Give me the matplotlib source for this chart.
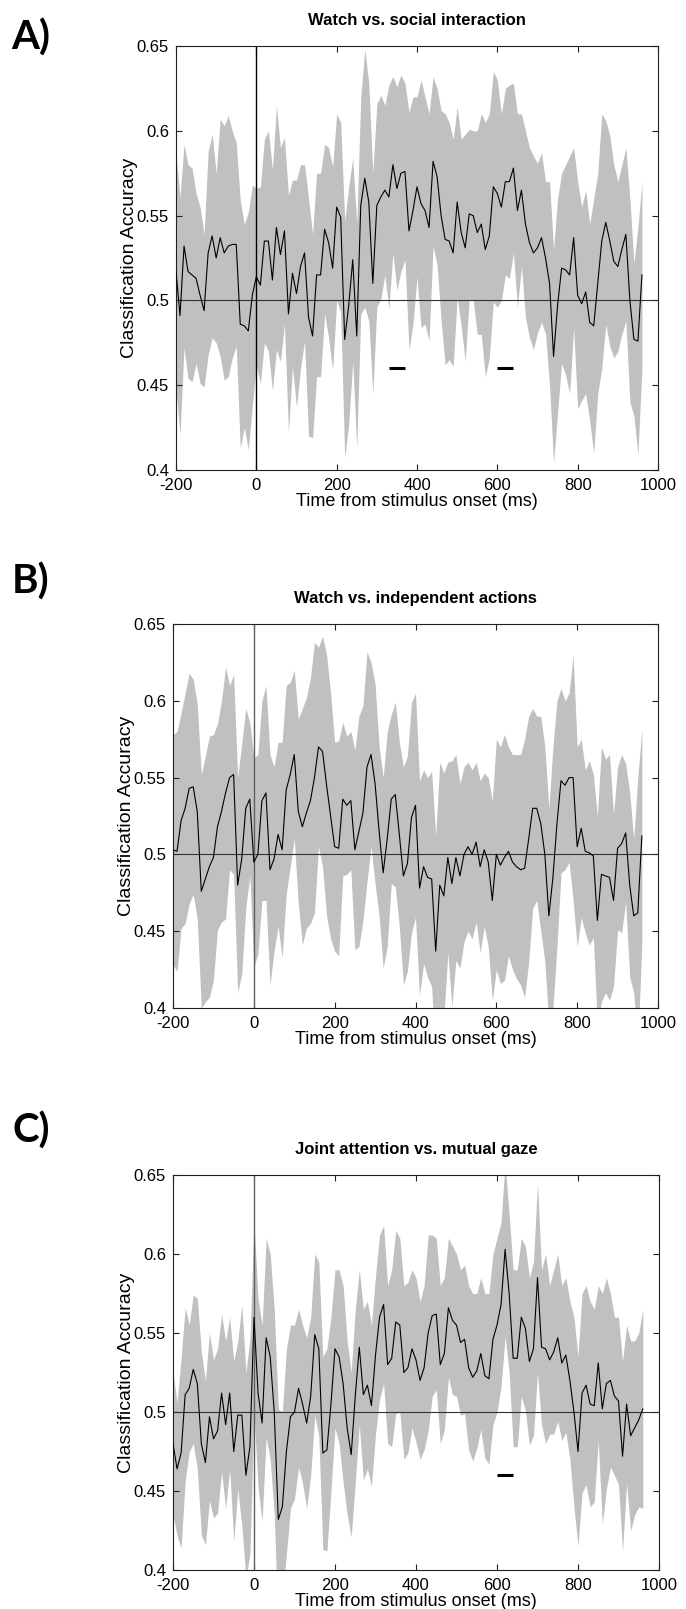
import numpy as np
import matplotlib.pyplot as plt
from matplotlib.ticker import FixedLocator, FixedFormatter

# time axis (ms), one sample every 10 ms
times = np.arange(-200, 961, 10)

# A) watch vs. social interaction: mean accuracy and band half-width
acc_social = [
    0.517, 0.491, 0.532, 0.517, 0.515, 0.513, 0.503, 0.494, 0.528, 0.538,
    0.525, 0.537, 0.528, 0.532, 0.533, 0.533, 0.486, 0.485, 0.482, 0.503,
    0.514, 0.509, 0.535, 0.535, 0.512, 0.543, 0.527, 0.541, 0.492, 0.516,
    0.504, 0.520, 0.528, 0.490, 0.479, 0.515, 0.515, 0.542, 0.534, 0.519,
    0.555, 0.549, 0.477, 0.497, 0.524, 0.479, 0.556, 0.572, 0.558, 0.510,
    0.556, 0.561, 0.565, 0.561, 0.580, 0.566, 0.575, 0.576, 0.541, 0.553,
    0.567, 0.557, 0.553, 0.543, 0.582, 0.573, 0.550, 0.536, 0.535, 0.528,
    0.558, 0.540, 0.531, 0.551, 0.550, 0.540, 0.545, 0.530, 0.538, 0.567,
    0.563, 0.555, 0.570, 0.570, 0.578, 0.553, 0.565, 0.545, 0.534, 0.528,
    0.531, 0.537, 0.525, 0.510, 0.467, 0.497, 0.519, 0.518, 0.515, 0.537,
    0.503, 0.498, 0.505, 0.487, 0.485, 0.510, 0.535, 0.546, 0.535, 0.523,
    0.520, 0.530, 0.539, 0.500, 0.477, 0.476, 0.515]
sd_social = [
    0.070, 0.070, 0.060, 0.063, 0.063, 0.050, 0.052, 0.045, 0.060, 0.060,
    0.050, 0.070, 0.075, 0.077, 0.067, 0.060, 0.073, 0.060, 0.070, 0.065,
    0.052, 0.058, 0.060, 0.065, 0.065, 0.072, 0.063, 0.055, 0.070, 0.055,
    0.067, 0.060, 0.052, 0.070, 0.060, 0.060, 0.060, 0.050, 0.056, 0.060,
    0.055, 0.056, 0.070, 0.070, 0.060, 0.066, 0.064, 0.076, 0.070, 0.065,
    0.060, 0.060, 0.050, 0.066, 0.052, 0.060, 0.058, 0.052, 0.070, 0.067,
    0.053, 0.073, 0.067, 0.067, 0.050, 0.052, 0.062, 0.074, 0.070, 0.067,
    0.056, 0.055, 0.067, 0.050, 0.050, 0.060, 0.065, 0.075, 0.072, 0.068,
    0.067, 0.055, 0.055, 0.057, 0.050, 0.057, 0.045, 0.055, 0.056, 0.057,
    0.050, 0.050, 0.045, 0.060, 0.063, 0.063, 0.056, 0.062, 0.070, 0.053,
    0.067, 0.057, 0.060, 0.058, 0.075, 0.065, 0.075, 0.060, 0.062, 0.057,
    0.050, 0.050, 0.051, 0.060, 0.045, 0.067, 0.055]

# B) watch vs. independent actions
acc_indep = [
    0.503, 0.502, 0.522, 0.530, 0.543, 0.544, 0.528, 0.476, 0.484, 0.492,
    0.498, 0.518, 0.528, 0.540, 0.550, 0.552, 0.480, 0.497, 0.530, 0.536,
    0.495, 0.500, 0.535, 0.540, 0.490, 0.497, 0.513, 0.503, 0.542, 0.552,
    0.565, 0.528, 0.518, 0.527, 0.535, 0.550, 0.570, 0.567, 0.545, 0.525,
    0.505, 0.504, 0.536, 0.532, 0.535, 0.503, 0.515, 0.527, 0.557, 0.565,
    0.546, 0.515, 0.488, 0.510, 0.536, 0.539, 0.513, 0.486, 0.494, 0.524,
    0.532, 0.478, 0.492, 0.485, 0.484, 0.437, 0.480, 0.473, 0.498, 0.481,
    0.498, 0.486, 0.500, 0.505, 0.500, 0.508, 0.492, 0.503, 0.495, 0.470,
    0.500, 0.493, 0.498, 0.502, 0.495, 0.492, 0.490, 0.491, 0.510, 0.530,
    0.530, 0.520, 0.500, 0.460, 0.485, 0.520, 0.548, 0.545, 0.550, 0.550,
    0.505, 0.517, 0.502, 0.501, 0.499, 0.457, 0.487, 0.486, 0.485, 0.470,
    0.504, 0.507, 0.514, 0.480, 0.460, 0.462, 0.512]
sd_indep = [
    0.075, 0.078, 0.070, 0.075, 0.075, 0.070, 0.070, 0.076, 0.080, 0.085,
    0.080, 0.067, 0.072, 0.082, 0.060, 0.065, 0.070, 0.075, 0.065, 0.050,
    0.068, 0.065, 0.065, 0.070, 0.075, 0.060, 0.060, 0.070, 0.068, 0.060,
    0.055, 0.060, 0.077, 0.075, 0.080, 0.088, 0.065, 0.075, 0.085, 0.080,
    0.068, 0.070, 0.050, 0.045, 0.045, 0.065, 0.075, 0.070, 0.075, 0.060,
    0.065, 0.055, 0.062, 0.070, 0.055, 0.060, 0.060, 0.071, 0.070, 0.075,
    0.073, 0.070, 0.063, 0.065, 0.070, 0.075, 0.080, 0.080, 0.062, 0.080,
    0.067, 0.060, 0.057, 0.055, 0.055, 0.052, 0.056, 0.050, 0.055, 0.065,
    0.075, 0.077, 0.080, 0.068, 0.070, 0.073, 0.075, 0.084, 0.080, 0.065,
    0.060, 0.070, 0.070, 0.070, 0.085, 0.080, 0.060, 0.055, 0.055, 0.080,
    0.065, 0.058, 0.053, 0.060, 0.053, 0.068, 0.083, 0.076, 0.080, 0.056,
    0.053, 0.058, 0.045, 0.060, 0.050, 0.088, 0.070]

# C) joint attention vs. mutual gaze
acc_joint = [
    0.480, 0.464, 0.474, 0.511, 0.515, 0.527, 0.518, 0.480, 0.468, 0.497,
    0.483, 0.488, 0.512, 0.492, 0.512, 0.475, 0.498, 0.498, 0.460, 0.478,
    0.560, 0.512, 0.493, 0.547, 0.535, 0.500, 0.432, 0.440, 0.475, 0.497,
    0.500, 0.515, 0.505, 0.493, 0.510, 0.549, 0.540, 0.474, 0.476, 0.505,
    0.540, 0.535, 0.518, 0.490, 0.473, 0.510, 0.541, 0.511, 0.517, 0.504,
    0.536, 0.560, 0.568, 0.530, 0.534, 0.557, 0.555, 0.525, 0.528, 0.540,
    0.533, 0.520, 0.528, 0.550, 0.561, 0.562, 0.530, 0.537, 0.566, 0.558,
    0.555, 0.544, 0.546, 0.528, 0.522, 0.526, 0.537, 0.523, 0.521, 0.546,
    0.555, 0.568, 0.603, 0.575, 0.534, 0.534, 0.560, 0.553, 0.532, 0.540,
    0.585, 0.541, 0.540, 0.533, 0.538, 0.547, 0.531, 0.536, 0.520, 0.500,
    0.475, 0.512, 0.517, 0.505, 0.504, 0.531, 0.502, 0.518, 0.520, 0.510,
    0.507, 0.472, 0.505, 0.485, 0.490, 0.495, 0.502]
sd_joint = [
    0.045, 0.042, 0.060, 0.055, 0.040, 0.047, 0.054, 0.058, 0.052, 0.053,
    0.050, 0.052, 0.050, 0.053, 0.048, 0.057, 0.047, 0.070, 0.065, 0.068,
    0.060, 0.060, 0.062, 0.063, 0.065, 0.065, 0.070, 0.060, 0.065, 0.058,
    0.055, 0.050, 0.050, 0.054, 0.050, 0.051, 0.055, 0.061, 0.064, 0.055,
    0.050, 0.055, 0.062, 0.055, 0.052, 0.055, 0.049, 0.054, 0.053, 0.051,
    0.050, 0.052, 0.050, 0.050, 0.056, 0.058, 0.055, 0.055, 0.054, 0.050,
    0.052, 0.050, 0.052, 0.062, 0.051, 0.048, 0.050, 0.048, 0.044, 0.047,
    0.045, 0.046, 0.047, 0.052, 0.053, 0.049, 0.048, 0.052, 0.054, 0.054,
    0.055, 0.052, 0.055, 0.050, 0.056, 0.056, 0.050, 0.052, 0.053, 0.055,
    0.060, 0.049, 0.060, 0.047, 0.052, 0.053, 0.049, 0.049, 0.050, 0.060,
    0.060, 0.063, 0.063, 0.065, 0.061, 0.049, 0.073, 0.067, 0.055, 0.050,
    0.053, 0.060, 0.050, 0.060, 0.055, 0.055, 0.063]

# significant clusters (ms) drawn as bars at accuracy 0.46
sig_social = [(330, 370), (600, 640)]
sig_indep = []
sig_joint = [(600, 640)]
sig_level = 0.46

titles = ['Watch vs. social interaction', 'Watch vs. independent actions',
          'Joint attention vs. mutual gaze']
letters = ['A)', 'B)', 'C)']
xticks = [-200, 0, 200, 400, 600, 800, 1000]
xtick_labels = ['-200', '0', '200', '400', '600', '800', '1000']
yticks = [0.4, 0.45, 0.5, 0.55, 0.6, 0.65]
ytick_labels = ['0.4', '0.45', '0.5', '0.55', '0.6', '0.65']

W, H = 686, 1609
fig = plt.figure(figsize=(W / 100, H / 100), dpi=100)

# axes boxes in pixels: left, right, top, bottom
boxes = [(176, 658, 46, 470), (173, 658, 624, 1008), (173, 659, 1175, 1570)]
letter_y = [38, 582, 1131]
zero_colors = ['black', '#606060', '#606060']
narrow = ['Liberation Sans Narrow', 'Liberation Sans', 'DejaVu Sans']

panels = [(acc_social, sd_social, sig_social),
          (acc_indep, sd_indep, sig_indep),
          (acc_joint, sd_joint, sig_joint)]

for i, (acc, sd, sig) in enumerate(panels):
    l, r, t, b = boxes[i]
    ax = fig.add_axes([l / W, 1 - b / H, (r - l) / W, (b - t) / H])
    acc = np.array(acc)
    sd = np.array(sd)
    ax.fill_between(times, acc - sd, acc + sd, color='#c0c0c0', lw=0, zorder=1)
    ax.axhline(0.5, color='#303030', lw=0.8, zorder=2)
    ax.axvline(0, color=zero_colors[i], lw=1.0, zorder=2)
    ax.plot(times, acc, color='black', lw=0.8, zorder=3)
    for s0, s1 in sig:
        ax.plot([s0, s1], [sig_level, sig_level], color='black', lw=2.2,
                solid_capstyle='butt', zorder=4)

    ax.set_xlim(-200, 1000)
    ax.set_ylim(0.4, 0.65)
    ax.xaxis.set_major_locator(FixedLocator(xticks))
    ax.xaxis.set_major_formatter(FixedFormatter(xtick_labels))
    ax.yaxis.set_major_locator(FixedLocator(yticks))
    ax.yaxis.set_major_formatter(FixedFormatter(ytick_labels))
    ax.tick_params(direction='in', length=4, width=0.8, top=True, right=True,
                   labelsize=12, color='#202020')
    ax.tick_params(axis='x', pad=6)
    ax.tick_params(axis='y', pad=5)
    for lab in ax.get_xticklabels() + ax.get_yticklabels():
        lab.set_family(narrow)
    for sp in ax.spines.values():
        sp.set_linewidth(0.8)
        sp.set_color('#202020')

    ax.set_title(titles[i], fontsize=12, fontweight='bold', family=narrow, pad=15)
    ax.set_xlabel('Time from stimulus onset (ms)', fontsize=13, family=narrow,
                  labelpad=0)
    ax.set_ylabel('Classification Accuracy', fontsize=14,
                  family=['Liberation Sans', 'DejaVu Sans'])
    ax.yaxis.set_label_coords(-38 / (r - l), 0.5)
    fig.text(31 / W, 1 - letter_y[i] / H, letters[i], fontsize=29,
             fontweight='bold', family=['Lato', 'DejaVu Sans'],
             ha='center', va='center')

fig.savefig('out.png', dpi=100)
